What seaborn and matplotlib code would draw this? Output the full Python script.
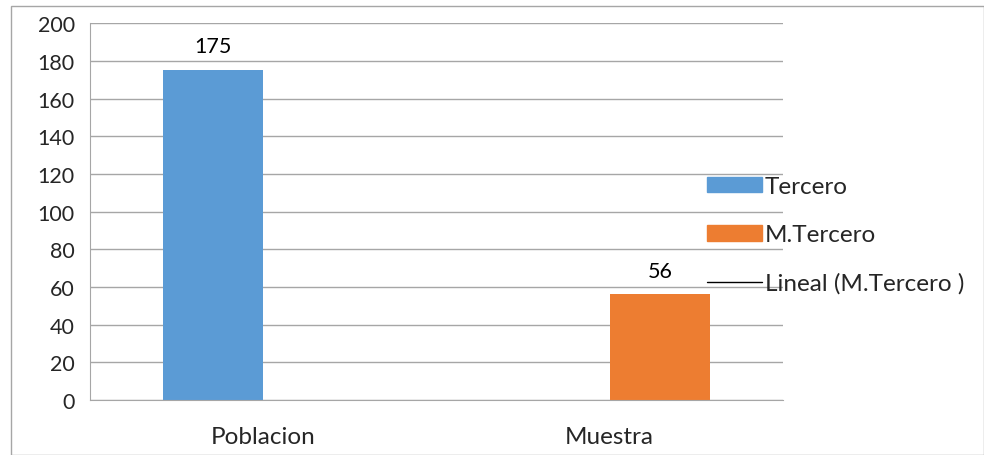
import numpy as np
import pandas as pd
import seaborn as sns
import matplotlib.pyplot as plt
from matplotlib.patches import Patch, Rectangle
from matplotlib.lines import Line2D

# data
categories = ["Poblacion", "Muestra"]
series = ["Tercero", "M.Tercero"]
tercero = [175, np.nan]
m_tercero = [np.nan, 56]
colors = ["#5B9BD5", "#ED7D31"]

df = pd.DataFrame({
    "categoria": categories * 2,
    "serie": [series[0]] * 2 + [series[1]] * 2,
    "valor": tercero + m_tercero,
})

sns.set_style("white")
plt.rcParams['font.family'] = ['Lato', 'DejaVu Sans']
fs = 15.5      # numbers
fs_txt = 17.5  # words

fig = plt.figure(figsize=(9.84, 4.56), dpi=100)
ax = fig.add_axes([0.0915, 0.1206, 0.7042, 0.8264])

sns.barplot(data=df, x="categoria", y="valor", hue="serie", order=categories,
            hue_order=series, palette=colors, width=0.578, dodge=True,
            legend=False, ax=ax, saturation=1, linewidth=0)

# value labels
for cont in ax.containers:
    labels = ["" if np.isnan(v) else f"{v:.0f}" for v in cont.datavalues]
    ax.bar_label(cont, labels=labels, padding=10, fontsize=fs, color="#000000")

ax.set_ylim(0, 200)
ax.set_yticks(range(0, 201, 20))
ax.set_xlim(-0.5, 1.5)
ax.set_xlabel("")
ax.set_ylabel("")
ax.yaxis.grid(True, color="#A6A6A6", linewidth=1)
ax.set_axisbelow(True)
for s in ["top", "right"]:
    ax.spines[s].set_visible(False)
ax.spines["left"].set_color("#A6A6A6")
ax.spines["bottom"].set_color("#A6A6A6")

ax.tick_params(axis="y", length=8, color="#A6A6A6", labelsize=fs, pad=3)
ax.tick_params(axis="x", which="major", length=0, labelsize=fs_txt, pad=19)
ax.set_xticks([-0.5, 0.5, 1.5], minor=True)
ax.tick_params(axis="x", which="minor", length=8, color="#A6A6A6")

handles = [Patch(color=colors[0]), Patch(color=colors[1]),
           Line2D([0], [0], color="black", linewidth=1)]
fig.legend(handles, ["Tercero", "M.Tercero", "Lineal (M.Tercero )"],
           loc="center left", bbox_to_anchor=(707 / 984, 1 - 236 / 456),
           frameon=False, fontsize=fs_txt, handlelength=2.25, handleheight=0.62,
           handletextpad=0.12, labelspacing=1.12, borderpad=0, borderaxespad=0)

# chart border
fig.patches.append(Rectangle((11 / 984, 0), 1 - 11 / 984, 1 - 7 / 456,
                             transform=fig.transFigure, fill=False,
                             edgecolor="#A6A6A6", linewidth=1))

fig.savefig("out.png", dpi=100)
